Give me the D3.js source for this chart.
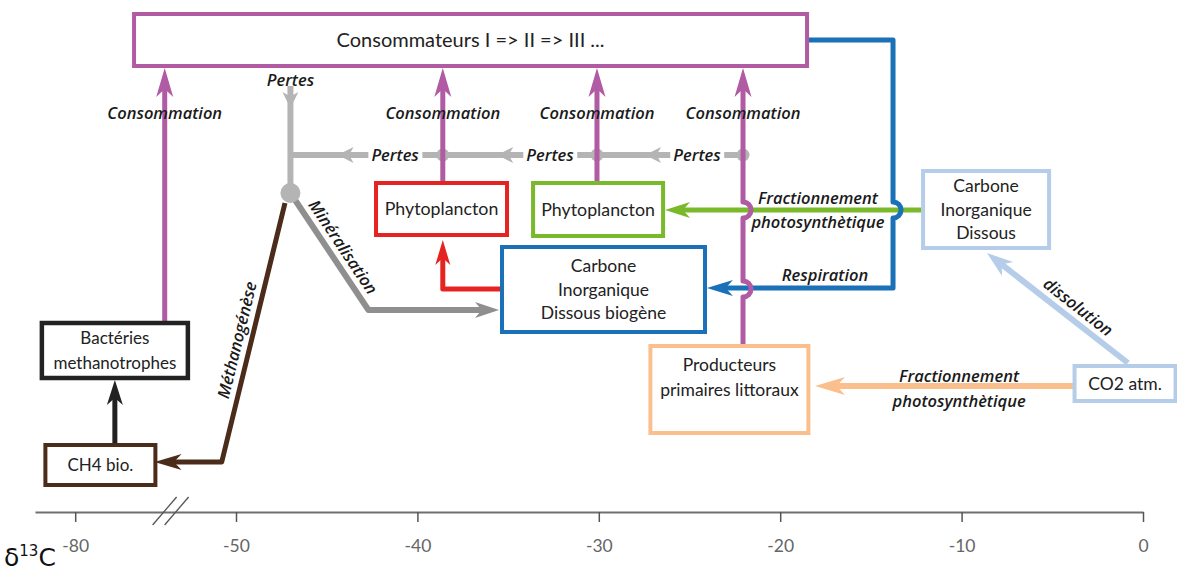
<!DOCTYPE html>
<html>
<head>
<meta charset="utf-8">
<script src="https://cdn.jsdelivr.net/npm/d3@7"></script>
<style>
  body { margin: 0; background: #fff; }
  svg { display: block; font-family: Lato, "Open Sans", sans-serif; }
</style>
</head>
<body>
<svg id="chart" width="1177" height="574"></svg>
<script>
// δ13C axis ticks
const ticks = [-80, -50, -40, -30, -20, -10, 0];

// compartments and the δ13C value their box is centred on
const boxIds    = ["conso", "bact", "ch4", "phytoR", "phytoG", "cidb", "prod", "cid", "co2"];
const boxLines  = [
  ["Consommateurs I => II => III ..."],
  ["Bactéries", "methanotrophes"],
  ["CH4 bio."],
  ["Phytoplancton"],
  ["Phytoplancton"],
  ["Carbone", "Inorganique", "Dissous biogène"],
  ["Producteurs", "primaires littoraux"],
  ["Carbone", "Inorganique", "Dissous"],
  ["CO2 atm."]
];
const boxDelta  = [-37.07, -72.6, -75.3, -38.67, -30.04, -29.74, -22.8, -8.65, -0.99];

// δ13C positions of the flows
const consoDelta   = [-63.3, -38.6, -30.1, -22.05];  // consommation arrows
const junction     = -47;
const pertesHeads  = [-44.4, -35.6, -27.45];
const pertesLabels = [-41.23, -32.69, -24.59];

// ---- layout (pixels) ----
const boxY   = [14, 323, 445, 183, 183, 247, 346, 171, 366];
const boxW   = [673, 146, 110, 131, 130, 203, 158, 126, 101];
const boxH   = [52, 55, 40, 52, 53, 85, 87, 77, 35];
const boxCol = ["#b05ba3", "#222222", "#4b2c1b", "#e52421", "#7ab929", "#1a71b8", "#fbbf8e", "#b5cde8", "#b5cde8"];
const boxFont = [20, 17, 17, 17.8, 17.8, 17.5, 17.5, 17.5, 17.5];

const purple = "#b05ba3", grey = "#b4b4b4", dgrey = "#8f8f8f";

const svg = d3.select("#chart");

// broken δ13C scale: compressed below -50
const x = d3.scaleLinear().domain([-87.5, -50, 0]).range([35, 236, 1143]);

// ---- axis ----
const axisY = 512;
const gAxis = svg.append("g")
  .attr("transform", "translate(0," + axisY + ")")
  .call(d3.axisBottom(x).tickValues(ticks).tickSize(10).tickSizeOuter(0).tickPadding(18)
    .tickFormat(d => String(d)));
gAxis.select(".domain").attr("stroke", "#707070").attr("stroke-width", 2);
gAxis.selectAll(".tick line").attr("stroke", "#555").attr("stroke-width", 1.5);
gAxis.selectAll(".tick text").attr("fill", "#666").attr("font-size", 17.5).attr("font-family", "Lato, sans-serif");

// axis break "//"
[0, 12].forEach(o => {
  svg.append("line")
    .attr("x1", x(-62.2) - 18 + o).attr("y1", 525)
    .attr("x2", x(-62.2) + 6 + o).attr("y2", 497)
    .attr("stroke", "#555").attr("stroke-width", 1.3);
});

svg.append("text").attr("x", 4).attr("y", 566)
  .attr("font-size", 25).attr("fill", "#111").attr("font-family", "'DejaVu Sans', sans-serif")
  .html('δ<tspan font-size="15" dy="-10">13</tspan><tspan dy="10">C</tspan>');

// ---- helpers ----
function head(g, px, py, ang, len, hw, col) {
  const n = len * 0.72;
  g.append("path")
    .attr("d", `M0,0L${-len},${-hw}L${-n},0L${-len},${hw}Z`)
    .attr("transform", `translate(${px},${py}) rotate(${ang})`)
    .attr("fill", col);
}
function line(g, d, col, w) {
  return g.append("path").attr("d", d).attr("fill", "none")
    .attr("stroke", col).attr("stroke-width", w)
    .attr("stroke-linejoin", "round");
}

const gFlow = svg.append("g");

// green: fractionnement from CID (drawn first, others hop over it)
line(gFlow, `M${x(-12.13)},210H${x(-26.35) + 14}`, "#7ab929", 5);
head(gFlow, x(-26.35), 210, 180, 25, 8, "#7ab929");

// orange: CO2 atm -> producteurs
line(gFlow, `M${x(-3.8)},386H${x(-18.08) + 18}`, "#fbbf8e", 6);
head(gFlow, x(-18.08), 386, 180, 30, 9, "#fbbf8e");

// light blue: dissolution
{
  const x1 = x(-0.83), y1 = 363, x2 = x(-8.6), y2 = 253;
  const a = Math.atan2(y2 - y1, x2 - x1);
  line(gFlow, `M${x1},${y1}L${x2 - 15 * Math.cos(a)},${y2 - 15 * Math.sin(a)}`, "#b5cde8", 6);
  head(gFlow, x2, y2, a * 180 / Math.PI, 26, 9, "#b5cde8");
}

// grey pertes
line(gFlow, `M${x(junction)},86V193`, grey, 6);
head(gFlow, x(junction), 108, 90, 16, 8, grey);
line(gFlow, `M${x(junction)},155H${x(consoDelta[3])}`, grey, 6);
consoDelta.slice(1).forEach(d => {
  gFlow.append("circle").attr("cx", x(d)).attr("cy", 155).attr("r", 6.5).attr("fill", grey);
});
pertesHeads.forEach(d => head(gFlow, x(d), 155, 180, 16, 8, grey));

// minéralisation
line(gFlow, `M${x(junction)},193L${x(-42.7)},310H${x(-35.5) - 14}`, dgrey, 6);
head(gFlow, x(-35.5), 310, 0, 24, 8, dgrey);

// méthanogénèse
line(gFlow, `M${x(-47.3)},203L${x(-52.66)},462H${x(-65.2) + 16}`, "#4b2c1b", 5);
head(gFlow, x(-65.2), 462, 180, 27, 8, "#4b2c1b");

gFlow.append("circle").attr("cx", x(junction)).attr("cy", 193).attr("r", 10).attr("fill", grey);

// red: CIDb -> phytoplancton
line(gFlow, `M${x(-35.33)},289H${x(-38.6)}V${240 + 16}`, "#e52421", 5);
head(gFlow, x(-38.6), 240, -90, 25, 7.5, "#e52421");

// black: CH4 -> bactéries
line(gFlow, `M${x(-72.6)},445V${380 + 16}`, "#222", 5);
head(gFlow, x(-72.6), 380, -90, 25, 8, "#222");

// blue: respiration, hops over the green line
{
  const bx = x(-13.78);
  line(gFlow, `M${x(-18.47)},40H${bx}V202A8,8 0 0 1 ${bx},218V288H${x(-24.04) + 16}`, "#1a71b8", 5);
  head(gFlow, x(-24.04), 288, 180, 26, 8, "#1a71b8");
}

// purple consommation arrows
consoDelta.forEach((d, i) => {
  const px = x(d);
  const y0 = i === 0 ? 323 : i === 3 ? 346 : 183;
  const path = i === 3
    ? `M${px},${y0}V297A8,8 0 0 0 ${px},281V218A8,8 0 0 0 ${px},202V88`
    : `M${px},${y0}V88`;
  line(gFlow, path, purple, 5);
  head(gFlow, px, 68, -90, 29, 8.5, purple);
});

// ---- boxes ----
const gBox = svg.append("g");
boxIds.forEach((id, i) => {
  const cx = x(boxDelta[i]);
  gBox.append("rect")
    .attr("x", cx - boxW[i] / 2).attr("y", boxY[i])
    .attr("width", boxW[i]).attr("height", boxH[i])
    .attr("fill", "#fff").attr("stroke", boxCol[i]).attr("stroke-width", id === "bact" ? 4.5 : 4);
  const lines = boxLines[i];
  const lh = lines.length === 3 ? 23.5 : 24.5;
  const cy = boxY[i] + boxH[i] / 2 + (id === "prod" ? -12 : 0);
  const t = gBox.append("text").attr("text-anchor", "middle")
    .attr("font-size", boxFont[i]).attr("fill", "#222");
  lines.forEach((s, k) => {
    t.append("tspan").attr("x", cx)
      .attr("y", cy + (k - (lines.length - 1) / 2) * lh)
      .attr("dy", "0.35em").text(s);
  });
});

// ---- flow labels ----
const gLab = svg.append("g").attr("font-style", "italic").attr("font-weight", 600)
  .attr("font-family", "'Open Sans', sans-serif").attr("fill", "#1a1a1a");
function label(s, d, y, rot, fs, bg) {
  const g = gLab.append("g").attr("transform", `translate(${x(d)},${y}) rotate(${rot || 0})`);
  const t = g.append("text").attr("text-anchor", "middle").attr("dy", "0.35em")
    .attr("font-size", fs || 16.5).text(s);
  if (bg) {
    const b = t.node().getBBox();
    g.insert("rect", "text").attr("x", b.x - 3).attr("y", b.y + 3)
      .attr("width", b.width + 6).attr("height", b.height - 6).attr("fill", "#fff");
  }
}
consoDelta.forEach(d => label("Consommation", d, 113));
label("Pertes", junction, 80);
pertesLabels.forEach(d => label("Pertes", d, 155, 0, 16.5, true));
label("Méthanogénèse", -49.94, 340, -76.3);
label("Minéralisation", -44.1, 247, 56.3);
label("Fractionnement", -17.92, 198);
label("photosynthètique", -17.92, 222);
label("Respiration", -17.53, 275);
label("dissolution", -3.58, 307, 38);
label("Fractionnement", -10.14, 376);
label("photosynthètique", -10.14, 401);
</script>
</body>
</html>
